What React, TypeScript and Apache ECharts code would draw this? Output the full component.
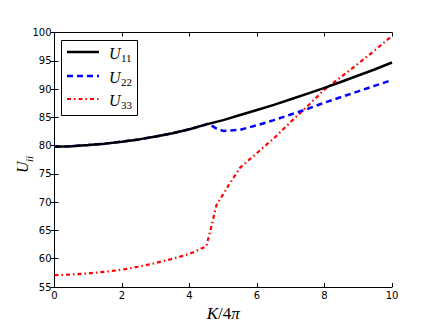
import React, { useEffect, useRef } from "react";
import * as echarts from "echarts";

const xTicks = [0, 2, 4, 6, 8, 10];
const yTicks = [55, 60, 65, 70, 75, 80, 85, 90, 95, 100];

const u11X = [0, 0.5, 1, 1.5, 2, 2.5, 3, 3.5, 4, 4.5, 5, 5.5, 6, 6.5, 7, 7.5, 8, 8.5, 9, 9.5, 10];
const u11 = [79.8, 79.9, 80.1, 80.35, 80.7, 81.1, 81.6, 82.2, 82.9, 83.75, 84.5, 85.4, 86.3, 87.2, 88.2, 89.2, 90.2, 91.3, 92.4, 93.5, 94.7];

const u22X = [0, 0.5, 1, 1.5, 2, 2.5, 3, 3.5, 4, 4.5, 4.56, 4.8, 5, 5.5, 6, 6.5, 7, 7.5, 8, 8.5, 9, 9.5, 10];
const u22 = [79.8, 79.9, 80.1, 80.35, 80.7, 81.1, 81.6, 82.2, 82.9, 83.75, 83.9, 83.0, 82.6, 82.8, 83.6, 84.5, 85.5, 86.5, 87.6, 88.6, 89.6, 90.6, 91.6];

const u33X = [0, 0.5, 1, 1.5, 2, 2.5, 3, 3.5, 4, 4.5, 4.66, 4.8, 5.15, 5.5, 6, 6.5, 7, 7.5, 8, 8.5, 9, 9.5, 10];
const u33 = [57.1, 57.2, 57.4, 57.7, 58.05, 58.6, 59.25, 60.0, 60.85, 62.2, 66.0, 69.5, 72.9, 76.1, 78.7, 81.3, 84.2, 87.0, 89.9, 92.2, 94.5, 96.9, 99.4];

const seriesSubs = ["11", "22", "33"];
const seriesColors = ["#000000", "#0000ff", "#ff0000"];
const seriesWidths = [2.5, 2.5, 2.2];
const seriesDash: (number[] | "solid")[] = ["solid", [6, 4], [4, 3, 1.5, 3]];

const MATH = "'Liberation Serif', 'DejaVu Serif', serif";
const SANS = "'DejaVu Sans', sans-serif";

export default function App() {
  const ref = useRef<HTMLDivElement>(null);
  useEffect(() => {
    if (!ref.current) return;
    const chart = echarts.init(ref.current, null, { renderer: "svg" });
    const xs = [u11X, u22X, u33X];
    const ys = [u11, u22, u33];

    const axisLine = { show: true, lineStyle: { color: "#000", width: 1 } };
    const tick = { show: true, inside: true, length: 4, lineStyle: { color: "#000", width: 1 } };

    const legendItems: any[] = [
      {
        type: "rect",
        shape: { x: 61.5, y: 40.5, width: 76, height: 75 },
        style: { fill: "#fff", stroke: "#000", lineWidth: 1 },
        z: 100,
      },
    ];
    const rowY = [52, 76, 99];
    seriesSubs.forEach((sub, i) => {
      legendItems.push({
        type: "line",
        shape: { x1: 67, y1: rowY[i], x2: 99, y2: rowY[i] },
        style: {
          stroke: seriesColors[i],
          lineWidth: seriesWidths[i],
          lineDash: seriesDash[i] === "solid" ? null : seriesDash[i],
        },
        z: 101,
      });
      legendItems.push({
        type: "text",
        x: 109,
        y: rowY[i] + 1,
        style: {
          text: "U",
          font: `italic 16px ${MATH}`,
          fill: "#000",
          textVerticalAlign: "middle",
        },
        z: 101,
      });
      legendItems.push({
        type: "text",
        x: 121,
        y: rowY[i] + 6,
        style: {
          text: sub,
          font: `11px ${MATH}`,
          fill: "#000",
          textVerticalAlign: "middle",
        },
        z: 101,
      });
    });

    const yLabel: any[] = [
      {
        type: "text",
        x: 22.5,
        y: 173,
        rotation: Math.PI / 2,
        style: { text: "U", font: `italic 16px ${MATH}`, fill: "#000", textVerticalAlign: "middle", textAlign: "left" },
      },
      {
        type: "text",
        x: 29,
        y: 162,
        rotation: Math.PI / 2,
        style: { text: "ii", font: `italic 11px ${MATH}`, fill: "#000", textVerticalAlign: "middle", textAlign: "left" },
      },
    ];

    chart.setOption({
      animation: false,
      backgroundColor: "#fff",
      grid: { left: 54.5, top: 32.5, right: 44, bottom: 33, containLabel: false },
      xAxis: [
        {
          type: "value",
          min: 0,
          max: 10,
          interval: 2,
          axisLine,
          axisTick: tick,
          splitLine: { show: false },
          axisLabel: { color: "#000", fontFamily: SANS, fontSize: 10, margin: 3 },
          name: "{i|K}{r|/4}{i|π}",
          nameLocation: "middle",
          nameGap: 18,
          nameTextStyle: {
            rich: {
              i: { fontFamily: MATH, fontStyle: "italic", fontSize: 17, color: "#000" },
              r: { fontFamily: MATH, fontSize: 17, color: "#000" },
            },
          },
        },
        {
          type: "value",
          position: "top",
          min: 0,
          max: 10,
          interval: 2,
          axisLine,
          axisTick: tick,
          splitLine: { show: false },
          axisLabel: { show: false },
        },
      ],
      yAxis: [
        {
          type: "value",
          min: 55,
          max: 100,
          interval: 5,
          axisLine,
          axisTick: tick,
          splitLine: { show: false },
          axisLabel: { color: "#000", fontFamily: SANS, fontSize: 10, margin: 3 },
        },
        {
          type: "value",
          position: "right",
          min: 55,
          max: 100,
          interval: 5,
          axisLine,
          axisTick: tick,
          splitLine: { show: false },
          axisLabel: { show: false },
        },
      ],
      series: seriesSubs.map((sub, i) => ({
        name: "U" + sub,
        type: "line",
        xAxisIndex: 0,
        yAxisIndex: 0,
        showSymbol: false,
        symbol: "none",
        smooth: false,
        data: xs[i].map((x, j) => [x, ys[i][j]]),
        lineStyle: {
          color: seriesColors[i],
          width: seriesWidths[i],
          type: seriesDash[i],
        },
        z: 10 - i,
      })),
      graphic: [...legendItems, ...yLabel],
    });
    return () => chart.dispose();
  }, []);
  return (
    <div
      ref={ref}
      style={{ position: "fixed", left: 0, top: 0, width: 436, height: 327, background: "#fff" }}
    />
  );
}
